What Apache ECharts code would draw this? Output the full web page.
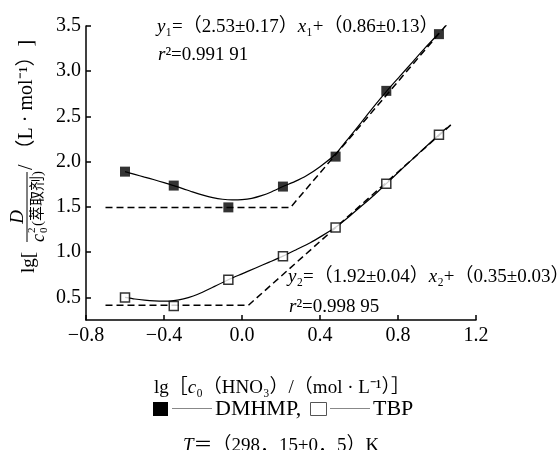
<!DOCTYPE html>
<html><head><meta charset="utf-8">
<script src="https://cdn.jsdelivr.net/npm/echarts@6/dist/echarts.min.js"></script>
<style>html,body{margin:0;padding:0;background:#fff}#c{width:558px;height:450px}</style>
</head><body><div id="c"></div>
<script>
// ---- data ----
const xTicks = [-0.8, -0.4, 0.0, 0.4, 0.8, 1.2];
const yTicks = [0.5, 1.0, 1.5, 2.0, 2.5, 3.0, 3.5];

const dmhmpX = [-0.60, -0.35, -0.07, 0.21, 0.48, 0.74, 1.01];
const dmhmpY = [1.89, 1.736, 1.495, 1.725, 2.056, 2.783, 3.41];
const tbpX = [-0.60, -0.35, -0.07, 0.21, 0.48, 0.74, 1.01];
const tbpY = [0.50, 0.404, 0.695, 0.956, 1.273, 1.757, 2.298];

// fitted (solid) curves
const dmhmpCurveX = [-0.60, -0.55, -0.50, -0.45, -0.40, -0.35, -0.30, -0.25, -0.20, -0.15, -0.10, -0.05, 0.00, 0.05, 0.10, 0.15, 0.21,
  0.27, 0.33, 0.40, 0.48, 0.55, 0.61, 0.68, 0.74, 0.81, 0.88, 0.94, 1.01];
const dmhmpCurveY = [1.890, 1.860, 1.830, 1.800, 1.768, 1.736, 1.700, 1.663, 1.630, 1.603, 1.585, 1.577, 1.580, 1.595, 1.625, 1.665, 1.725,
  1.780, 1.845, 1.945, 2.085, 2.270, 2.430, 2.620, 2.775, 2.945, 3.115, 3.260, 3.420];
const tbpCurveX = [-0.60, -0.55, -0.50, -0.45, -0.40, -0.35, -0.30, -0.25, -0.20, -0.15, -0.07, 0.00, 0.07, 0.14, 0.21,
  0.28, 0.35, 0.41, 0.48, 0.55, 0.61, 0.68, 0.74, 0.81, 0.88, 0.94, 1.01, 1.05];
const tbpCurveY = [0.500, 0.482, 0.470, 0.462, 0.459, 0.465, 0.483, 0.515, 0.560, 0.612, 0.695, 0.760, 0.825, 0.890, 0.956,
  1.030, 1.105, 1.180, 1.275, 1.395, 1.505, 1.635, 1.757, 1.900, 2.040, 2.160, 2.298, 2.375];

// dashed asymptotes
const dmhmpDashX = [-0.70, 0.249, 1.10];
const dmhmpDashY = [1.495, 1.495, 3.643];
const tbpDashX = [-0.70, 0.033, 1.08];
const tbpDashY = [0.413, 0.413, 2.424];

const zip = (a, b) => a.map((v, i) => [v, b[i]]);
const SERIF = '"Liberation Serif", "Times New Roman", "Noto Sans CJK SC", serif';
const fmt = v => (v < 0 ? '\u2212' : '') + Math.abs(v).toFixed(1);

const chart = echarts.init(document.getElementById('c'), null, {renderer: 'canvas'});

const T = (x, y, text, extra) => ({type: 'text', x: x, y: y, silent: true,
  style: Object.assign({text: text, fill: '#000', font: '18px ' + SERIF, align: 'left', verticalAlign: 'middle'}, extra || {})});

const richBase = {
  n: {fontFamily: SERIF, fontSize: 19, color: '#000'},
  i: {fontFamily: SERIF, fontSize: 19, fontStyle: 'italic', color: '#000'}
};

const yLabelGroup = {
  type: 'group', x: 0, y: 275, rotation: Math.PI / 2, silent: true,
  children: [
    T(2, 29, 'lg[', {font: '19px ' + SERIF}),
    {type: 'line', shape: {x1: 33, y1: 27, x2: 103, y2: 27}, style: {stroke: '#000', lineWidth: 1}},
    T(58, 18, 'D', {font: 'italic 19px ' + SERIF, align: 'center'}),
    T(33, 39, 'c', {font: 'italic 18px ' + SERIF}),
    T(42, 32, '2', {font: '11px ' + SERIF}),
    T(42, 44, '0', {font: '11px ' + SERIF}),
    T(49, 38, '(萃取剂)', {font: '15px ' + SERIF}),
    T(105, 27, '/ \uFF08L \u00B7 mol\u207B\u00B9\uFF09]', {font: '20px ' + SERIF})
  ]
};

const option = {
  backgroundColor: '#fff',
  animation: false,
  grid: {left: 86, right: 82, top: 26, bottom: 130, containLabel: false},
  xAxis: {
    type: 'value', min: -0.8, max: 1.2, interval: 0.4,
    axisLine: {show: true, onZero: false, lineStyle: {color: '#000', width: 1.5}},
    axisTick: {show: true, inside: true, length: 5, lineStyle: {color: '#000', width: 1.5}},
    axisLabel: {color: '#000', fontFamily: SERIF, fontSize: 20, margin: 6, formatter: fmt},
    splitLine: {show: false}
  },
  yAxis: {
    type: 'value', min: 0.25, max: 3.5, interval: 0.25,
    axisLine: {show: true, onZero: false, lineStyle: {color: '#000', width: 1.5}},
    axisTick: {show: true, inside: true, length: 5, customValues: yTicks, lineStyle: {color: '#000', width: 1.5}},
    axisLabel: {color: '#000', fontFamily: SERIF, fontSize: 20, margin: 5, customValues: yTicks,
      formatter: v => (Math.abs(v * 2 - Math.round(v * 2)) < 1e-6 ? v.toFixed(1) : '')},
    splitLine: {show: false}
  },
  series: [
    {type: 'line', data: zip(dmhmpDashX, dmhmpDashY), symbol: 'none', z: 2,
      lineStyle: {color: '#000', width: 1.5, type: [7, 4]}},
    {type: 'line', data: zip(tbpDashX, tbpDashY), symbol: 'none', z: 2,
      lineStyle: {color: '#000', width: 1.5, type: [7, 4]}},
    {type: 'line', data: zip(dmhmpCurveX, dmhmpCurveY), symbol: 'none', smooth: 0.2, z: 3,
      lineStyle: {color: '#000', width: 1.2}},
    {type: 'line', data: zip(tbpCurveX, tbpCurveY), symbol: 'none', smooth: 0.2, z: 3,
      lineStyle: {color: '#000', width: 1.2}},
    {type: 'scatter', name: 'DMHMP', data: zip(dmhmpX, dmhmpY), symbol: 'rect', symbolSize: 10, z: 5,
      itemStyle: {color: '#000'}},
    {type: 'scatter', name: 'TBP', data: zip(tbpX, tbpY), symbol: 'rect', symbolSize: 9, z: 5,
      itemStyle: {color: '#fff', borderColor: '#000', borderWidth: 1.5}}
  ],
  graphic: [
    {type: 'text', x: 157, y: 27, silent: true, style: {
      text: '{i|y}{n|\u2081=\uFF082.53\u00B10.17\uFF09}{i|x}{n|\u2081+\uFF080.86\u00B10.13\uFF09}',
      rich: richBase, verticalAlign: 'middle', align: 'left'}},
    {type: 'text', x: 158, y: 55, silent: true, style: {
      text: '{i|r}{n|\u00B2=0.991 91}', rich: richBase, verticalAlign: 'middle', align: 'left'}},
    {type: 'text', x: 288, y: 277, silent: true, style: {
      text: '{i|y}{n|\u2082=\uFF081.92\u00B10.04\uFF09}{i|x}{n|\u2082+\uFF080.35\u00B10.03\uFF09}',
      rich: richBase, verticalAlign: 'middle', align: 'left'}},
    {type: 'text', x: 289, y: 307, silent: true, style: {
      text: '{i|r}{n|\u00B2=0.998 95}', rich: richBase, verticalAlign: 'middle', align: 'left'}},
    {type: 'text', x: 282, y: 388, silent: true, style: {
      text: '{n|lg\uFF3B}{i|c}{n|\u2080\uFF08HNO\u2083\uFF09/\uFF08mol \u00B7 L\u207B\u00B9\uFF09\uFF3D}',
      rich: richBase, verticalAlign: 'middle', align: 'center'}},
    yLabelGroup,
    // legend line
    {type: 'rect', shape: {x: 153, y: 402, width: 15, height: 14}, style: {fill: '#000'}, silent: true},
    {type: 'line', shape: {x1: 172, y1: 408.5, x2: 212, y2: 408.5}, style: {stroke: '#888', lineWidth: 1}, silent: true},
    T(215, 409, 'DMHMP,', {font: '22px ' + SERIF}),
    {type: 'rect', shape: {x: 310.5, y: 402.5, width: 16, height: 13}, style: {fill: '#fff', stroke: '#555', lineWidth: 1}, silent: true},
    {type: 'line', shape: {x1: 330, y1: 408.5, x2: 370, y2: 408.5}, style: {stroke: '#888', lineWidth: 1}, silent: true},
    T(373, 409, 'TBP', {font: '22px ' + SERIF}),
    {type: 'text', x: 183, y: 446, silent: true, style: {
      text: '{i|T}{n|\uFF1D\uFF08298\uFF0E15\u00B10\uFF0E5\uFF09K}', rich: richBase, verticalAlign: 'middle', align: 'left'}}
  ]
};
chart.setOption(option);
</script>
</body></html>
